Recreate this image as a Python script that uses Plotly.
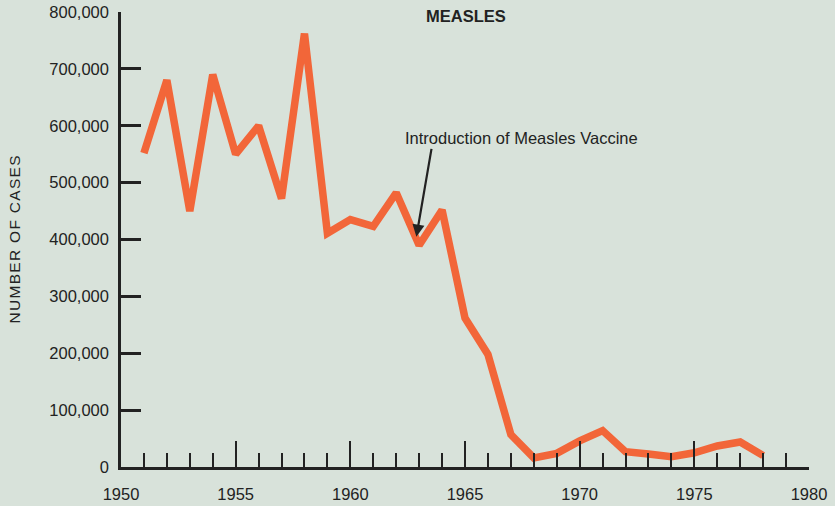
import plotly.graph_objects as go

years = list(range(1951, 1979))
cases = [552000, 680000, 450000, 690000, 550000, 600000, 472000, 762000,
         411000, 435000, 423000, 482000, 390000, 452000, 262000, 198000,
         57000, 16000, 24000, 46000, 64000, 27000, 23000, 18000,
         25000, 37000, 44000, 20000]

x_ticks = [1950, 1955, 1960, 1965, 1970, 1975, 1980]
y_ticks = [0, 100000, 200000, 300000, 400000, 500000, 600000, 700000, 800000]
y_labels = ['0', '100,000', '200,000', '300,000', '400,000', '500,000',
            '600,000', '700,000', '800,000']

bg = '#D8E2DA'
ink = '#222222'
font = 'Liberation Sans, Arial, sans-serif'

fig = go.Figure(go.Scatter(
    x=years, y=cases, mode='lines',
    line=dict(color='#F26639', width=7.5),
    hoverinfo='skip'
))

# arrow pointing at 1963
fig.add_annotation(
    x=1962.88, y=405000, ax=1963.55, ay=562000,
    xref='x', yref='y', axref='x', ayref='y',
    showarrow=True, arrowhead=2, arrowsize=1.1, arrowwidth=2.2, arrowcolor=ink,
    text='', font=dict(size=1), standoff=0
)
fig.add_annotation(
    x=1962.3, y=578000, xref='x', yref='y', xanchor='left', yanchor='middle',
    text='Introduction of Measles Vaccine', showarrow=False,
    font=dict(family=font, size=16.5, color=ink)
)

fig.update_layout(
    width=835, height=506,
    margin=dict(l=121, r=26, t=12, b=39),
    paper_bgcolor=bg, plot_bgcolor=bg,
    showlegend=False,
    font=dict(family=font, color=ink),
    title=dict(text='<b>MEASLES</b>', x=0.558, xanchor='center', y=0.968, yanchor='middle',
               font=dict(family=font, size=16.5, color=ink)),
    xaxis=dict(
        range=[1950, 1980], showgrid=False, zeroline=False, automargin=False,
        showline=True, linecolor=ink, linewidth=2.5,
        tickmode='array', tickvals=x_ticks,
        ticks='inside', ticklen=26, tickwidth=2, tickcolor=ink,
        ticklabelstandoff=10,
        tickfont=dict(size=16.5, family=font, color=ink),
        minor=dict(dtick=1, tick0=1950, ticks='inside', ticklen=14, tickwidth=1.5,
                   tickcolor=ink, showgrid=False),
    ),
    yaxis=dict(
        range=[0, 800000], showgrid=False, zeroline=False, automargin=False,
        showline=True, linecolor=ink, linewidth=2.5,
        tickmode='array', tickvals=y_ticks, ticktext=y_labels,
        ticks='inside', ticklen=20, tickwidth=2.5, tickcolor=ink,
        ticklabelstandoff=6,
        tickfont=dict(size=16.5, family=font, color=ink),
        title=dict(text='\u200a'.join('NUMBER OF CASES'), standoff=25,
                   font=dict(size=15.5, family=font, color=ink)),
    ),
)

fig.write_html('out.html', config={'displayModeBar': False},
               post_script="document.body.style.margin='0';")
